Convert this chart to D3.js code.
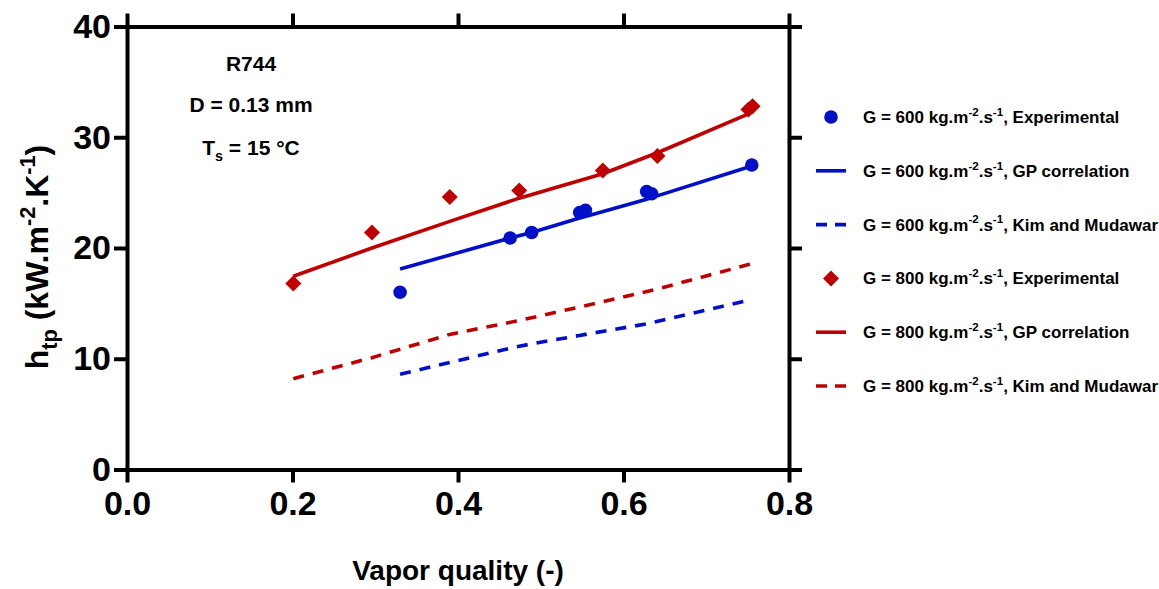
<!DOCTYPE html>
<html>
<head>
<meta charset="utf-8">
<script src="https://cdn.jsdelivr.net/npm/d3@7"></script>
<style>
  body { margin: 0; background: #fff; }
  svg { display: block; font-family: "Liberation Sans", Arial, sans-serif; font-weight: bold; }
</style>
</head>
<body>
<svg id="chart" width="1159" height="589"></svg>
<script>
// vapor quality values for each mass flux
const xBlue = [0.330, 0.463, 0.489, 0.547, 0.554, 0.628, 0.634, 0.755];
const expBlue = [16.0, 20.9, 21.4, 23.2, 23.4, 25.1, 24.9, 27.5];
const gpBlue = [18.1, 20.9, 21.4, 22.7, 22.85, 24.4, 24.55, 27.4];
const kmBlue = [8.6, 10.95, 11.35, 12.1, 12.2, 13.15, 13.25, 15.35];

const xRed = [0.201, 0.296, 0.390, 0.474, 0.575, 0.641, 0.751, 0.756];
const expRed = [16.8, 21.4, 24.6, 25.2, 27.0, 28.3, 32.5, 32.8];
const gpRed = [17.45, 20.0, 22.4, 24.5, 26.7, 28.6, 32.1, 32.3];
const kmRed = [8.2, 10.1, 12.2, 13.45, 15.15, 16.3, 18.5, 18.6];

const xTicks = [0, 0.2, 0.4, 0.6, 0.8];
const yTicks = [0, 10, 20, 30, 40];

const legendLabels = ["Experimental", "GP correlation", "Kim and Mudawar",
                      "Experimental", "GP correlation", "Kim and Mudawar"];

const blue = "#0010c8";
const red = "#c00000";

let svg = d3.select('#chart');

let x = d3.scaleLinear().domain([0, 0.8]).range([127, 789]);
let y = d3.scaleLinear().domain([0, 40]).range([469.5, 26.5]);

// helper for text with sub/superscripts
function rich(el, parts, fs) {
    let off = 0;
    parts.forEach(p => {
        let target = 0, size = fs;
        if (p[1] == 'sup') { target = -fs * 0.42; size = fs * 0.68; }
        if (p[1] == 'sub') { target = fs * 0.28; size = fs * 0.68; }
        el.append('tspan')
          .attr('dy', target - off)
          .attr('font-size', size)
          .text(p[0]);
        off = target;
    });
}

function styleAxis(g) {
    g.selectAll('.domain').attr('stroke', '#000').attr('stroke-width', 4).attr('stroke-linecap', 'square');
    g.selectAll('.tick line').attr('stroke', '#000').attr('stroke-width', 4);
    g.selectAll('.tick text').attr('fill', '#000')
      .attr('font-size', 34).attr('font-weight', 'bold')
      .attr('font-family', '"Liberation Sans", Arial, sans-serif');
}

// box axes
let axLeft = svg.append('g').attr('transform', `translate(${x(0)},0)`)
    .call(d3.axisLeft(y).tickValues(yTicks).tickSize(13).tickSizeOuter(0).tickPadding(3));
styleAxis(axLeft);

let axBottom = svg.append('g').attr('transform', `translate(0,${y(0)})`)
    .call(d3.axisBottom(x).tickValues(xTicks).tickSize(13).tickSizeOuter(0).tickPadding(8)
          .tickFormat(d3.format('.1f')));
styleAxis(axBottom);

let axRight = svg.append('g').attr('transform', `translate(${x(0.8)},0)`)
    .call(d3.axisRight(y).tickValues(yTicks).tickSize(13).tickSizeOuter(0).tickFormat(''));
styleAxis(axRight);

let axTop = svg.append('g').attr('transform', `translate(0,${y(40)})`)
    .call(d3.axisTop(x).tickValues(xTicks).tickSize(13).tickSizeOuter(0).tickFormat(''));
styleAxis(axTop);

// lines
let line = d3.line().x(d => x(d[0])).y(d => y(d[1]));
let series = [
    { xs: xBlue, ys: gpBlue, color: blue, dash: null },
    { xs: xBlue, ys: kmBlue, color: blue, dash: '11,9' },
    { xs: xRed, ys: gpRed, color: red, dash: null },
    { xs: xRed, ys: kmRed, color: red, dash: '11,9' }
];
series.forEach(s => {
    svg.append('path')
      .datum(d3.zip(s.xs, s.ys))
      .attr('d', line)
      .attr('fill', 'none')
      .attr('stroke', s.color)
      .attr('stroke-width', 3.6)
      .attr('stroke-dasharray', s.dash);
});

// markers
svg.selectAll('circle.exp')
  .data(d3.zip(xBlue, expBlue))
  .enter()
  .append('circle')
  .attr('class', 'exp')
  .attr('cx', d => x(d[0]))
  .attr('cy', d => y(d[1]))
  .attr('r', 6.8)
  .attr('fill', blue);

let diamond = d3.symbol().type(d3.symbolSquare).size(128);
svg.selectAll('path.dia')
  .data(d3.zip(xRed, expRed))
  .enter()
  .append('path')
  .attr('class', 'dia')
  .attr('d', diamond)
  .attr('transform', d => `translate(${x(d[0])},${y(d[1])}) rotate(45)`)
  .attr('fill', red);

// annotation
let ann = svg.append('g').attr('text-anchor', 'middle').attr('font-size', 21);
ann.append('text').attr('x', 251).attr('y', 71).text('R744');
ann.append('text').attr('x', 251).attr('y', 112).text('D = 0.13 mm');
rich(ann.append('text').attr('x', 251).attr('y', 155),
     [['T', ''], ['s', 'sub'], [' = 15 °C', '']], 21);

// axis titles
svg.append('text')
  .attr('x', x(0.4)).attr('y', 580)
  .attr('text-anchor', 'middle')
  .attr('font-size', 28)
  .text('Vapor quality (-)');

let ylab = svg.append('text')
  .attr('transform', 'translate(48,257) rotate(-90)')
  .attr('text-anchor', 'middle')
  .attr('font-size', 32);
rich(ylab, [['h', ''], ['tp', 'sub'], [' (kW.m', ''], ['-2', 'sup'], ['.K', ''], ['-1', 'sup'], [')', '']], 32);

// legend
let legY = d3.scaleLinear().domain([0, 5]).range([117, 386]);
let leg = svg.append('g');
legendLabels.forEach((lab, i) => {
    let color = i < 3 ? blue : red;
    let g = leg.append('g').attr('transform', `translate(0,${legY(i)})`);
    let kind = i % 3;
    if (kind == 0) {
        if (i < 3) g.append('circle').attr('cx', 831).attr('cy', 0).attr('r', 6.8).attr('fill', color);
        else g.append('path').attr('d', diamond).attr('transform', 'translate(831,0) rotate(45)').attr('fill', color);
    } else {
        g.append('line').attr('x1', 816).attr('x2', 846).attr('y1', 0).attr('y2', 0)
          .attr('stroke', color).attr('stroke-width', 3.6)
          .attr('stroke-dasharray', kind == 2 ? '11,8' : null);
    }
    let t = g.append('text').attr('x', 863).attr('y', 6).attr('font-size', 17);
    rich(t, [[`G = ${i < 3 ? 600 : 800} kg.m`, ''], ['-2', 'sup'], ['.s', ''], ['-1', 'sup'], [', ' + lab, '']], 17);
});
</script>
</body>
</html>
